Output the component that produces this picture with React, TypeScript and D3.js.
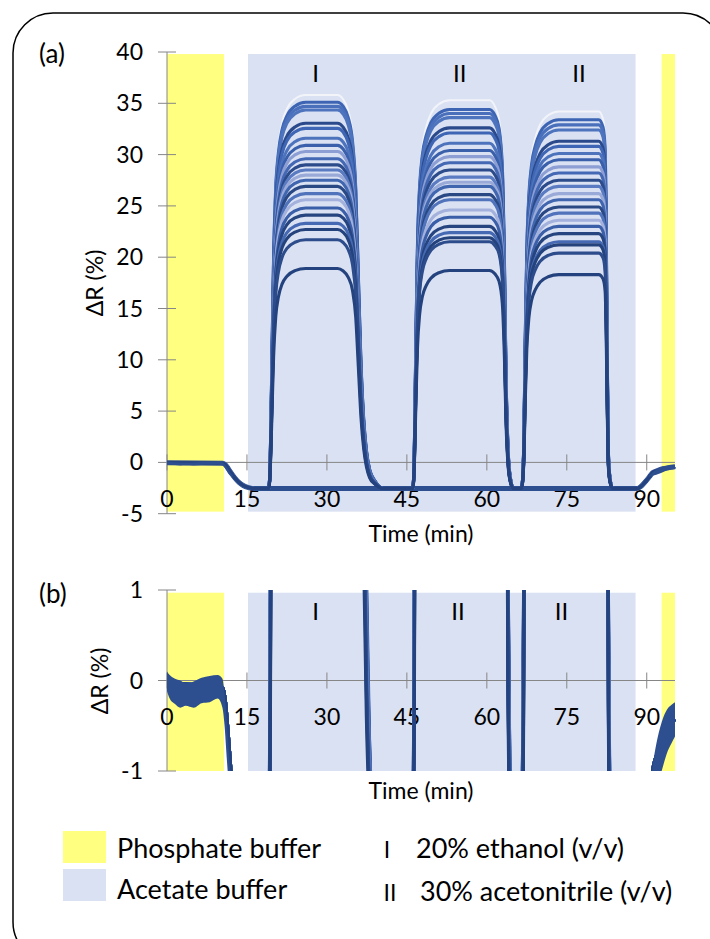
import React from 'react';
import * as d3 from 'd3';

// ---------- data ----------
const xTicks = [0, 15, 30, 45, 60, 75, 90];
const yTicksA = [40, 35, 30, 25, 20, 15, 10, 5, 0, -5];
const yTicksB = [1, 0, -1];

const phosphateBands: [number, number][] = [[0, 10.7], [92.8, 95.3]];
const acetateBands: [number, number][] = [[15.2, 87.9]];

const romanLabelsA = [{ text: 'I', t: 27.9 }, { text: 'II', t: 54.9 }, { text: 'II', t: 77.3 }];
const romanLabelsB = [{ text: 'I', t: 27.9 }, { text: 'II', t: 54.6 }, { text: 'II', t: 74.0 }];

// common baseline (buffer response) keypoints
const baseTimes = [0, 10.5, 11, 11.5, 12, 12.7, 13.5, 14.3, 15.3, 16.5, 88.2, 89, 89.8, 90.5, 91.1, 92, 93, 94, 95.3];
const baseValues = [-0.03, -0.08, -0.25, -0.6, -1.0, -1.5, -1.95, -2.25, -2.45, -2.55, -2.55, -2.3, -1.85, -1.4, -1.0, -0.8, -0.62, -0.52, -0.43];
const acetateLevel = -2.55;

// normalised response profiles of the three exposures
const exp1Times = [19.1, 19.4, 19.7, 20.0, 20.4, 20.9, 21.6, 22.5, 24, 26, 32, 33, 34, 34.8, 35.4, 35.9, 36.4, 36.9, 37.4, 38.0, 39.0, 40.5];
const exp1Frac = [0, 0.1, 0.35, 0.6, 0.78, 0.87, 0.93, 0.965, 0.99, 1, 1, 0.99, 0.96, 0.9, 0.78, 0.55, 0.32, 0.18, 0.1, 0.05, 0.02, 0];
const exp2Times = [46.1, 46.4, 46.7, 47.0, 47.4, 47.9, 48.6, 49.5, 51, 53, 60.5, 61.5, 62.3, 62.9, 63.3, 63.6, 64.0, 64.4, 65];
const exp2Frac = [0, 0.1, 0.4, 0.65, 0.8, 0.88, 0.93, 0.965, 0.99, 1, 1, 0.985, 0.95, 0.85, 0.6, 0.3, 0.1, 0.03, 0];
const exp3Times = [66.5, 66.9, 67.2, 67.5, 67.9, 68.4, 69.1, 70, 71.5, 73.5, 81, 81.8, 82.2, 82.4, 82.6, 82.8, 83.1, 83.6];
const exp3Frac = [0, 0.1, 0.4, 0.65, 0.8, 0.88, 0.93, 0.965, 0.99, 1, 1, 0.98, 0.92, 0.7, 0.35, 0.1, 0.03, 0];

// plateau ΔR (%) of each sensor trace in the three exposures
const plateauI = [35.1, 34.7, 34.35, 33.05, 32.56, 31.6, 30.9, 30.3, 29.6, 29.0, 28.5, 28.0, 27.5, 26.9, 26.2, 25.6, 24.8, 24.1, 23.3, 22.7, 21.7, 18.9];
const plateauII1 = [34.4, 34.0, 33.6, 32.6, 32.1, 31.1, 30.4, 29.8, 29.2, 28.5, 27.8, 27.3, 26.9, 26.1, 25.6, 24.6, 23.9, 23.0, 22.4, 21.9, 21.5, 18.7];
const plateauII2 = [33.4, 32.9, 32.4, 31.3, 30.8, 30.1, 29.5, 28.8, 28.2, 27.5, 26.9, 26.2, 25.6, 24.9, 24.3, 23.6, 23.0, 22.3, 21.5, 21.2, 20.4, 18.3];
const curveColors = ['#3D65B4', '#4A70BC', '#4E74BE', '#2B4A8C', '#3F66B4', '#4E73BD', '#3A60AC', '#8C9ED3', '#4468B3', '#2C4B8B', '#5A7BC2', '#9AAAD8', '#4166B0', '#2A4984', '#5073BC', '#A3B1DC', '#3A5EA8', '#26447F', '#4569B3', '#24427C', '#2D4C8C', '#24427E'];
const ghostPlateaus = [35.8, 35.3, 34.2];

// noise envelope of the baseline in panel (b)
const envStartTimes = [0, 0.5, 1.5, 2.5, 3.5, 5, 6.5, 8, 9.5, 10.4, 10.8, 11.2, 11.6, 12.0, 12.4];
const envStartUpper = [0.1, 0.06, 0.02, 0.0, -0.03, -0.01, 0.03, 0.05, 0.06, 0.02, -0.15, -0.45, -0.8, -1.1, -1.3];
const envStartLower = [-0.12, -0.2, -0.26, -0.3, -0.28, -0.3, -0.25, -0.24, -0.2, -0.3, -0.5, -0.85, -1.15, -1.3, -1.4];
const envEndTimes = [90.4, 91.1, 91.8, 92.8, 93.8, 94.6, 95.3];
const envEndUpper = [-1.3, -0.95, -0.7, -0.46, -0.32, -0.27, -0.24];
const envEndLower = [-1.4, -1.3, -1.2, -1.0, -0.8, -0.7, -0.62];

// ---------- layout ----------
const W = 710, H = 939;
const X0 = 167, X1 = 675;
const T_MAX = 95.3;
const FONT = "Lato, 'Open Sans', sans-serif";
const AXIS = '#868686';
const FS = 23;

const xScale = d3.scaleLinear().domain([0, T_MAX]).range([X0, X1]);
const yA = d3.scaleLinear().domain([40, -5]).range([52, 513.7]);
const yB = d3.scaleLinear().domain([1, -1]).range([590, 771]);

type Pt = [number, number];

function curvePoints(pl: number[]): Pt[] {
  const pts: Pt[] = [];
  baseTimes.forEach((t, k) => pts.push([t, baseValues[k]]));
  const exps: [number[], number[]][] = [[exp1Times, exp1Frac], [exp2Times, exp2Frac], [exp3Times, exp3Frac]];
  exps.forEach(([ts, fs], e) => {
    const amp = pl[e] - acetateLevel;
    ts.forEach((t, k) => pts.push([t, acetateLevel + amp * fs[k]]));
  });
  pts.sort((a, b) => a[0] - b[0]);
  return pts;
}

const traces = plateauI.map((_, i) => ({
  pts: curvePoints([plateauI[i], plateauII1[i], plateauII2[i]]),
  color: curveColors[i],
}));
const ghost = curvePoints(ghostPlateaus);

function Panel({ y, yTicks, top, bottom, bandTop, bandBottom, labelTicksY, romans, romanY, tag, tagY, yTitleX, yTitleY, xTitleY, clipId, panelB }: any) {
  const line = d3.line<Pt>().x(d => xScale(d[0])).y(d => y(d[1])).curve(d3.curveMonotoneX);
  const area = (ts: number[], up: number[], lo: number[]) =>
    d3.area<number>().x(k => xScale(ts[k])).y0(k => y(lo[k])).y1(k => y(up[k])).curve(d3.curveMonotoneX)(ts.map((_, k) => k)) || '';
  const zeroY = y(0);
  return (
    <g>
      <defs>
        <clipPath id={clipId}>
          <rect x={X0} y={y(top)} width={X1 - X0 + 1} height={y(bottom) - y(top)} />
        </clipPath>
      </defs>
      {phosphateBands.map((b, k) => (
        <rect key={'p' + k} x={xScale(b[0])} y={y(bandTop)} width={xScale(b[1]) - xScale(b[0])} height={y(bandBottom) - y(bandTop)} fill="#FFFF80" />
      ))}
      {acetateBands.map((b, k) => (
        <rect key={'a' + k} x={xScale(b[0])} y={y(bandTop)} width={xScale(b[1]) - xScale(b[0])} height={y(bandBottom) - y(bandTop)} fill="#D9E1F2" />
      ))}
      {romans.map((r: any, k: number) => (
        <text key={'r' + k} x={xScale(r.t)} y={romanY} dy="0.35em" textAnchor="middle" fontSize={24} fontFamily={FONT} fill="#000">{r.text}</text>
      ))}
      {/* axes */}
      <line x1={X0} x2={X0} y1={y(top)} y2={y(bottom)} stroke={AXIS} strokeWidth={1} />
      {yTicks.map((v: number) => (
        <line key={'yt' + v} x1={X0 - 9} x2={X0 + 9} y1={y(v)} y2={y(v)} stroke={AXIS} strokeWidth={1} />
      ))}
      <line x1={X0} x2={X1} y1={zeroY} y2={zeroY} stroke={AXIS} strokeWidth={1} />
      {xTicks.map(v => (
        <line key={'xt' + v} x1={xScale(v)} x2={xScale(v)} y1={zeroY - 8} y2={zeroY + 8} stroke={AXIS} strokeWidth={1} />
      ))}
      {yTicks.map((v: number) => (
        <text key={'yl' + v} x={143} y={y(v)} dy="0.35em" textAnchor="end" fontSize={FS} fontFamily={FONT} fill="#000">{v}</text>
      ))}
      {xTicks.map(v => (
        <text key={'xl' + v} x={xScale(v)} y={labelTicksY} dy="0.35em" textAnchor="middle" fontSize={FS} fontFamily={FONT} fill="#000">{v}</text>
      ))}
      {/* traces */}
      <g clipPath={`url(#${clipId})`}>
        {!panelB && <path d={line(baseTimes.map((t, k) => [t, baseValues[k]] as Pt)) || ''} fill="none" stroke="#2E4F8F" strokeWidth={5} />}
        <path d={line(ghost) || ''} fill="none" stroke="#F2F4FA" strokeWidth={2} />
        {traces.map((tr, k) => (
          <path key={'c' + k} d={line(tr.pts) || ''} fill="none" stroke={tr.color} strokeWidth={3.1} />
        ))}
        <path d={area(envStartTimes, envStartUpper, envStartLower)} fill="#2E4F8F" />
        <path d={area(envEndTimes, envEndUpper, envEndLower)} fill="#2E4F8F" />
      </g>
      <text x={39} y={tagY} fontSize={26} fontFamily={FONT} fill="#000">{tag}</text>
      <text transform={`translate(${yTitleX},${yTitleY}) rotate(-90)`} dy="0.35em" textAnchor="middle" fontSize={FS} fontFamily={FONT} fill="#000">ΔR (%)</text>
      <text x={(X0 + X1) / 2} y={xTitleY} dy="0.35em" textAnchor="middle" fontSize={FS} fontFamily={FONT} fill="#000">Time (min)</text>
    </g>
  );
}

export default function App() {
  return (
    <svg width={W} height={H} style={{ position: 'absolute', left: 0, top: 0, background: '#fff' }}>
      <rect x={13} y={13} width={W} height={H + 10} rx={40} ry={40} fill="#fff" stroke="#000" strokeWidth={1.5} />
      <Panel y={yA} yTicks={yTicksA} top={40} bottom={-5} bandTop={39.8} bandBottom={-4.8}
        labelTicksY={499} romans={romanLabelsA} romanY={74} tag="(a)" tagY={63}
        yTitleX={95} yTitleY={283} xTitleY={534} clipId="clipA" panelB={false} />
      <Panel y={yB} yTicks={yTicksB} top={1} bottom={-1} bandTop={0.97} bandBottom={-1}
        labelTicksY={716.5} romans={romanLabelsB} romanY={612} tag="(b)" tagY={603}
        yTitleX={100} yTitleY={681} xTitleY={791} clipId="clipB" panelB={true} />
      {/* legend */}
      <rect x={63} y={831} width={43} height={32} fill="#FFFF80" />
      <rect x={63} y={869} width={43} height={32} fill="#D9E1F2" />
      <text x={117} y={858} fontSize={27} fontFamily={FONT} fill="#000">Phosphate buffer</text>
      <text x={117} y={899} fontSize={27} fontFamily={FONT} fill="#000">Acetate buffer</text>
      <text x={387} y={858} fontSize={23} fontFamily={FONT} fill="#000" textAnchor="middle">I</text>
      <text x={416} y={858} fontSize={27} fontFamily={FONT} fill="#000">20% ethanol (v/v)</text>
      <text x={390} y={901} fontSize={23} fontFamily={FONT} fill="#000" textAnchor="middle">II</text>
      <text x={420} y={901} fontSize={27} fontFamily={FONT} fill="#000">30% acetonitrile (v/v)</text>
    </svg>
  );
}
